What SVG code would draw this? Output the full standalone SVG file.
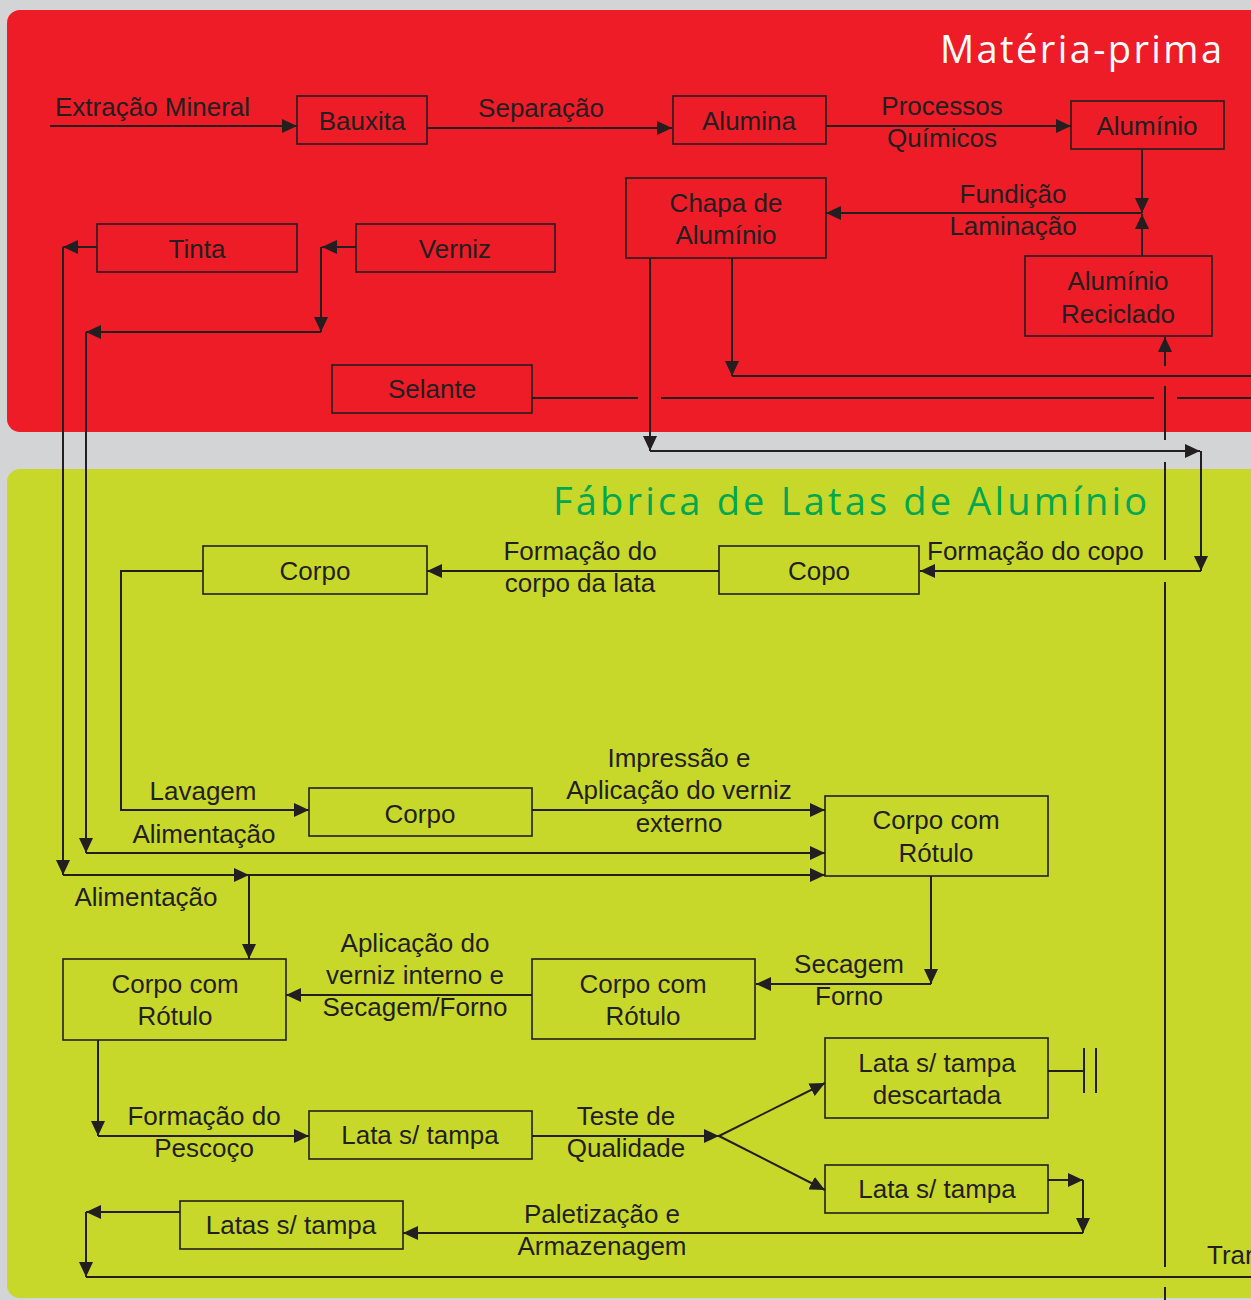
<svg xmlns="http://www.w3.org/2000/svg" width="1251" height="1300" viewBox="0 0 1251 1300">
<style>
.box{fill:none;stroke:#231f20;stroke-width:1.6}
.t{font-family:"Liberation Sans",Arial,sans-serif;font-size:26px;fill:#231f20}
.c{text-anchor:middle}
.ln{fill:none;stroke:#231f20;stroke-width:2}
.ar{marker-end:url(#ah)}
.title{font-family:"Open Sans","Liberation Sans",sans-serif;font-weight:400;font-size:38px}
</style>
<defs>
<marker id="ah" markerUnits="userSpaceOnUse" markerWidth="15" markerHeight="14" viewBox="0 0 15 14" refX="15" refY="7" orient="auto">
<path d="M0,0 L15,7 L0,14 z" fill="#231f20"/>
</marker>
</defs>
<rect x="0" y="0" width="1251" height="1300" fill="#d3d4d6"/>
<rect id="panel-materia" x="7" y="10" width="1270" height="422" rx="13" fill="#ed1c27"/>
<rect id="panel-fabrica" x="7" y="469" width="1270" height="829" rx="13" fill="#c7d82b"/>
<text class="title" x="940" y="63" fill="#ffffff" textLength="282" lengthAdjust="spacing">Matéria-prima</text>
<text class="title" x="553" y="515" fill="#00a651" textLength="594" lengthAdjust="spacing">Fábrica de Latas de Alumínio</text>

<g id="connectors">
<path class="ln ar" d="M50,126 H297"/>
<path class="ln ar" d="M427,128 H672"/>
<path class="ln ar" d="M826,126 H1071"/>
<path class="ln ar" d="M1142,149 V213"/>
<path class="ln ar" d="M1142,256 V214"/>
<path class="ln ar" d="M1142,213 H826"/>
<path class="ln ar" d="M732,258 V376"/>
<path class="ln" d="M732,376 H1251"/>
<path class="ln ar" d="M650,258 V451"/>
<path class="ln ar" d="M650,451 H1200"/>
<path class="ln ar" d="M1201,451 V571"/>
<path class="ln ar" d="M1201,571 H920"/>
<path class="ln ar" d="M97,247 H63"/>
<path class="ln ar" d="M63,247 V875"/>
<path class="ln ar" d="M63,875 H249"/>
<path class="ln ar" d="M249,875 H825"/>
<path class="ln ar" d="M249,875 V959"/>
<path class="ln ar" d="M356,247 H322"/>
<path class="ln ar" d="M321,247 V332"/>
<path class="ln ar" d="M321,332 H86"/>
<path class="ln ar" d="M86,332 V853"/>
<path class="ln ar" d="M86,853 H825"/>
<path class="ln" d="M532,398 H638 M661,398 H1154 M1177,398 H1251"/>
<path class="ln ar" d="M1165,366 V337"/>
<path class="ln" d="M1165,386 V440 M1165,462 V560 M1165,582 V1267 M1165,1287 V1300"/>
<path class="ln ar" d="M719,571 H427"/>
<path class="ln ar" d="M203,571 H121 V810 H309"/>
<path class="ln ar" d="M532,810 H825"/>
<path class="ln ar" d="M931,876 V984"/>
<path class="ln ar" d="M931,984 H756"/>
<path class="ln ar" d="M532,995 H286"/>
<path class="ln ar" d="M98,1040 V1136"/>
<path class="ln ar" d="M98,1136 H309"/>
<path class="ln ar" d="M532,1136 H719"/>
<path class="ln ar" d="M719,1136 L825,1083"/>
<path class="ln ar" d="M719,1136 L825,1190"/>
<path class="ln" d="M1048,1071 H1084 M1084,1048 V1093 M1096,1048 V1093"/>
<path class="ln ar" d="M1048,1180 H1083"/>
<path class="ln ar" d="M1083,1180 V1233"/>
<path class="ln ar" d="M1083,1233 H403"/>
<path class="ln ar" d="M180,1212 H86"/>
<path class="ln ar" d="M86,1212 V1277"/>
<path class="ln" d="M86,1277 H1251"/>
</g>

<g id="edge-labels" class="t">
<text x="55" y="116">Extração Mineral</text>
<text x="541" y="117" class="c">Separação</text>
<text x="942" y="115" class="c">Processos</text>
<text x="942" y="147" class="c">Químicos</text>
<text x="1013" y="203" class="c">Fundição</text>
<text x="1013" y="235" class="c">Laminação</text>
<text x="927" y="560">Formação do copo</text>
<text x="580" y="560" class="c">Formação do</text>
<text x="580" y="592" class="c">corpo da lata</text>
<text x="203" y="800" class="c">Lavagem</text>
<text x="679" y="767" class="c">Impressão e</text>
<text x="679" y="799" class="c">Aplicação do verniz</text>
<text x="679" y="832" class="c">externo</text>
<text x="204" y="843" class="c">Alimentação</text>
<text x="146" y="906" class="c">Alimentação</text>
<text x="849" y="973" class="c">Secagem</text>
<text x="849" y="1005" class="c">Forno</text>
<text x="415" y="952" class="c">Aplicação do</text>
<text x="415" y="984" class="c">verniz interno e</text>
<text x="415" y="1016" class="c">Secagem/Forno</text>
<text x="204" y="1125" class="c">Formação do</text>
<text x="204" y="1157" class="c">Pescoço</text>
<text x="626" y="1125" class="c">Teste de</text>
<text x="626" y="1157" class="c">Qualidade</text>
<text x="602" y="1223" class="c">Paletização e</text>
<text x="602" y="1255" class="c">Armazenagem</text>
<text x="1207" y="1264">Tran</text>
</g>

<g id="n-bauxita"><rect class="box" x="297" y="96" width="130" height="48"/><text class="t c" x="362" y="130">Bauxita</text></g>
<g id="n-alumina"><rect class="box" x="673" y="96" width="153" height="48"/><text class="t c" x="749" y="130">Alumina</text></g>
<g id="n-aluminio"><rect class="box" x="1071" y="101" width="153" height="48"/><text class="t c" x="1147" y="135">Alumínio</text></g>
<g id="n-chapa"><rect class="box" x="626" y="178" width="200" height="80"/><text class="t c" x="726" y="212">Chapa de</text><text class="t c" x="726" y="244">Alumínio</text></g>
<g id="n-reciclado"><rect class="box" x="1025" y="256" width="187" height="80"/><text class="t c" x="1118" y="290">Alumínio</text><text class="t c" x="1118" y="323">Reciclado</text></g>
<g id="n-tinta"><rect class="box" x="97" y="224" width="200" height="48"/><text class="t c" x="197" y="258">Tinta</text></g>
<g id="n-verniz"><rect class="box" x="356" y="224" width="199" height="48"/><text class="t c" x="455" y="258">Verniz</text></g>
<g id="n-selante"><rect class="box" x="332" y="365" width="200" height="48"/><text class="t c" x="432" y="398">Selante</text></g>
<g id="n-copo"><rect class="box" x="719" y="546" width="200" height="48"/><text class="t c" x="819" y="580">Copo</text></g>
<g id="n-corpo1"><rect class="box" x="203" y="546" width="224" height="48"/><text class="t c" x="315" y="580">Corpo</text></g>
<g id="n-corpo2"><rect class="box" x="309" y="788" width="223" height="48"/><text class="t c" x="420" y="823">Corpo</text></g>
<g id="n-rotulo1"><rect class="box" x="825" y="796" width="223" height="80"/><text class="t c" x="936" y="829">Corpo com</text><text class="t c" x="936" y="862">Rótulo</text></g>
<g id="n-rotulo2"><rect class="box" x="532" y="959" width="223" height="80"/><text class="t c" x="643" y="993">Corpo com</text><text class="t c" x="643" y="1025">Rótulo</text></g>
<g id="n-rotulo3"><rect class="box" x="63" y="959" width="223" height="81"/><text class="t c" x="175" y="993">Corpo com</text><text class="t c" x="175" y="1025">Rótulo</text></g>
<g id="n-lata1"><rect class="box" x="309" y="1111" width="223" height="48"/><text class="t c" x="420" y="1144">Lata s/ tampa</text></g>
<g id="n-descartada"><rect class="box" x="825" y="1038" width="223" height="80"/><text class="t c" x="937" y="1072">Lata s/ tampa</text><text class="t c" x="937" y="1104">descartada</text></g>
<g id="n-lata2"><rect class="box" x="825" y="1165" width="223" height="48"/><text class="t c" x="937" y="1198">Lata s/ tampa</text></g>
<g id="n-latas"><rect class="box" x="180" y="1201" width="223" height="48"/><text class="t c" x="291" y="1234">Latas s/ tampa</text></g>
</svg>
